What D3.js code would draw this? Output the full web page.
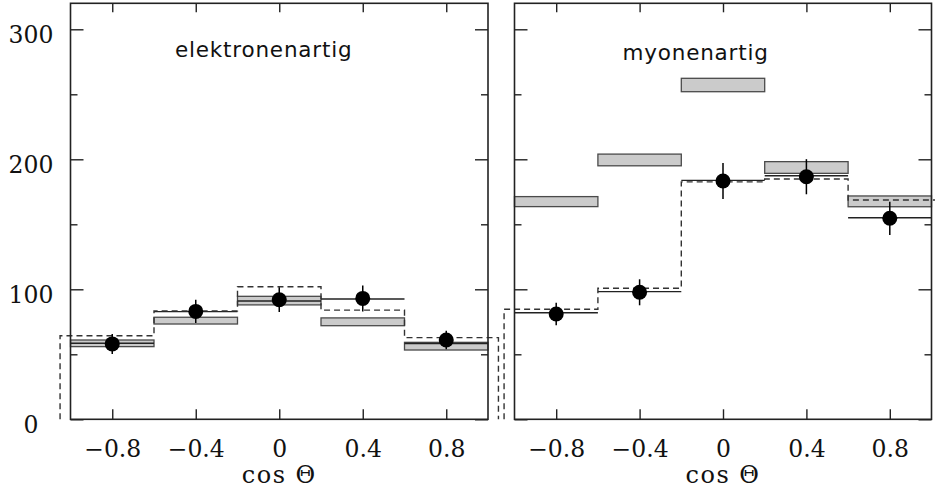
<!DOCTYPE html>
<html>
<head>
<meta charset="utf-8">
<script src="https://cdn.jsdelivr.net/npm/d3@7"></script>
<style>
  body { margin: 0; background: #fff; }
</style>
</head>
<body>
<svg id="chart"></svg>
<script>
// bins in cos theta
const binEdges = [-1, -0.6, -0.2, 0.2, 0.6, 1];
const dashEdges = [-1.05, -0.6, -0.2, 0.2, 0.6, 1.05];
const binCenters = [-0.8, -0.4, 0, 0.4, 0.8];
const xTicks = [-0.8, -0.4, 0, 0.4, 0.8];
const yMajor = [0, 100, 200, 300];
const yMinor = [50, 150, 250];
const titles = ["elektronenartig", "myonenartig"];

// elektronenartig
const dataE = [58, 83, 92, 93, 61];
const errE = [7.7, 9, 9.5, 10, 7.2];
const solidE = [58.5, 82.8, 91, 92.5, 58.3];
const dashE = [64.3, 83.4, 102, 84, 62.8];
const boxLowE = [55.9, 73.3, 88, 72, 53.3];
const boxHighE = [61, 78.5, 94.6, 78, 59.2];

// myonenartig
const dataM = [81, 97.7, 183.3, 186.6, 154.6];
const errM = [8.7, 10, 13.8, 13.5, 12.8];
const solidM = [82, 98.2, 183.8, 187.4, 155];
const dashM = [84.6, 100.8, 182.6, 184.8, 168.7];
const boxLowM = [163.6, 195, 252, 189.2, 163.5];
const boxHighM = [171.3, 204, 262.3, 198.2, 171.8];

const width = 935, height = 493;

const svg = d3.select("#chart")
  .attr("width", width)
  .attr("height", height);

const y = d3.scaleLinear().domain([0, 320]).range([419.3, 3.3]);

const panels = [
  {range: [70.5, 488], title: titles[0], tx: 104.5, ty: 57, labels: true,
   data: dataE, err: errE, solid: solidE, dash: dashE, lo: boxLowE, hi: boxHighE},
  {range: [514.5, 931.5], title: titles[1], tx: 108, ty: 60, labels: false,
   data: dataM, err: errM, solid: solidM, dash: dashM, lo: boxLowM, hi: boxHighM}
];

const fmt = d3.format("");

panels.forEach(p => {
  const x = d3.scaleLinear().domain([-1, 1]).range(p.range);
  const g = svg.append("g");

  // grey bands
  g.append("g")
    .selectAll("rect")
    .data(binCenters)
    .join("rect")
    .attr("x", (d, i) => x(binEdges[i]))
    .attr("width", (d, i) => x(binEdges[i + 1]) - x(binEdges[i]))
    .attr("y", (d, i) => y(p.hi[i]))
    .attr("height", (d, i) => y(p.lo[i]) - y(p.hi[i]))
    .attr("fill", "#cbcbcb")
    .attr("stroke", "#4a4a4a")
    .attr("stroke-width", 1.3);

  // solid prediction
  g.append("g")
    .selectAll("line")
    .data(p.solid)
    .join("line")
    .attr("x1", (d, i) => x(binEdges[i]))
    .attr("x2", (d, i) => x(binEdges[i + 1]))
    .attr("y1", d => y(d))
    .attr("y2", d => y(d))
    .attr("stroke", "#222")
    .attr("stroke-width", 1.4);

  // dashed histogram
  const pts = [[dashEdges[0], 0]];
  p.dash.forEach((v, i) => { pts.push([dashEdges[i], v], [dashEdges[i + 1], v]); });
  pts.push([dashEdges[dashEdges.length - 1], 0]);
  g.append("path")
    .attr("d", d3.line().x(d => x(d[0])).y(d => y(d[1]))(pts))
    .attr("fill", "none")
    .attr("stroke", "#333")
    .attr("stroke-width", 1.4)
    .attr("stroke-dasharray", "6,4");

  // data points
  g.append("g")
    .selectAll("line")
    .data(p.data)
    .join("line")
    .attr("x1", (d, i) => x(binCenters[i]))
    .attr("x2", (d, i) => x(binCenters[i]))
    .attr("y1", (d, i) => y(d - p.err[i]))
    .attr("y2", (d, i) => y(d + p.err[i]))
    .attr("stroke", "#000")
    .attr("stroke-width", 1.5);
  g.append("g")
    .selectAll("circle")
    .data(p.data)
    .join("circle")
    .attr("cx", (d, i) => x(binCenters[i]))
    .attr("cy", d => y(d))
    .attr("r", 7.5)
    .attr("fill", "#000");

  // frame
  g.append("rect")
    .attr("x", x(-1))
    .attr("y", y(320))
    .attr("width", x(1) - x(-1))
    .attr("height", y(0) - y(320))
    .attr("fill", "none")
    .attr("stroke", "#222")
    .attr("stroke-width", 1.6);

  const axisStyle = sel => sel
    .attr("font-family", "DejaVu Serif")
    .attr("font-size", 23.5)
    .style("color", "#222")
    .call(s => s.select(".domain").remove())
    .call(s => s.selectAll(".tick line").attr("stroke-width", 1.4));

  // bottom axis
  g.append("g")
    .attr("transform", `translate(0,${y(0)})`)
    .call(d3.axisBottom(x).tickValues(xTicks).tickSizeInner(-10).tickSizeOuter(0).tickFormat(fmt))
    .call(axisStyle)
    .call(s => s.selectAll(".tick text").attr("y", 38).attr("dy", null).attr("fill", "#111"));

  // top axis
  g.append("g")
    .attr("transform", `translate(0,${y(320)})`)
    .call(d3.axisTop(x).tickValues(xTicks).tickSizeInner(-9).tickSizeOuter(0).tickFormat(""))
    .call(axisStyle);

  // left axis
  g.append("g")
    .attr("transform", `translate(${x(-1)},0)`)
    .call(d3.axisLeft(y).tickValues(yMajor).tickSizeInner(-13).tickSizeOuter(0)
      .tickFormat(p.labels ? fmt : ""))
    .call(axisStyle)
    .call(s => s.selectAll(".tick text")
      .attr("x", 31 - p.range[0]).attr("text-anchor", "middle")
      .attr("y", 13).attr("dy", null).attr("fill", "#111"));
  g.append("g")
    .attr("transform", `translate(${x(-1)},0)`)
    .call(d3.axisLeft(y).tickValues(yMinor).tickSizeInner(-7).tickSizeOuter(0).tickFormat(""))
    .call(axisStyle);

  // right axis
  g.append("g")
    .attr("transform", `translate(${x(1)},0)`)
    .call(d3.axisRight(y).tickValues(yMajor).tickSizeInner(-13).tickSizeOuter(0).tickFormat(""))
    .call(axisStyle);
  g.append("g")
    .attr("transform", `translate(${x(1)},0)`)
    .call(d3.axisRight(y).tickValues(yMinor).tickSizeInner(-7).tickSizeOuter(0).tickFormat(""))
    .call(axisStyle);

  // x label
  g.append("text")
    .attr("x", x(0))
    .attr("y", 483)
    .attr("text-anchor", "middle")
    .attr("font-family", "DejaVu Serif")
    .attr("font-size", 24)
    .attr("letter-spacing", 1.5)
    .attr("fill", "#111")
    .text("cos Θ");

  // title
  g.append("text")
    .attr("x", p.range[0] + p.tx)
    .attr("y", p.ty)
    .attr("font-family", "DejaVu Sans")
    .attr("font-size", 21.5)
    .attr("letter-spacing", 0.8)
    .attr("fill", "#111")
    .text(p.title);
});
</script>
</body>
</html>
